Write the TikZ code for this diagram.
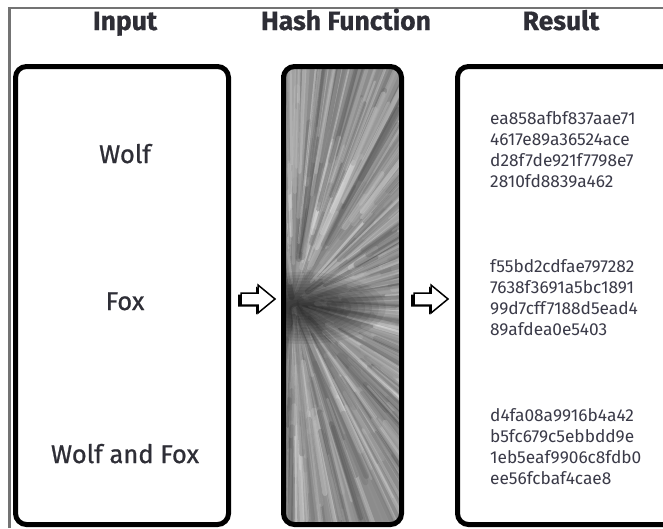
\documentclass[tikz,border=0pt]{standalone}
\usepackage{fontspec}
\setmainfont{Fira Sans}
\newfontfamily\medfont[FakeBold=0.9]{Fira Sans}
\newfontfamily\hdrfont[FakeBold=0.6]{Fira Sans Bold}
\usetikzlibrary{shapes.arrows}
\definecolor{txt}{HTML}{2E2E36}
\definecolor{hashc}{HTML}{3A3A48}
\begin{document}
\begin{tikzpicture}[x=1pt,y=-1pt,
  boxstyle/.style={draw=black, line width=5pt, rounded corners=11pt, inner sep=0pt},
  hdr/.style={font=\hdrfont\fontsize{26.5}{30}\selectfont, anchor=base, text=txt, inner sep=0pt},
  lbl/.style={font=\medfont\fontsize{25.5}{28}\selectfont, anchor=base, text=txt, inner sep=0pt},
  hashtxt/.style={font=\fontsize{17.3}{21}\selectfont, align=left, anchor=base west, inner sep=0pt, text=hashc},
  arrowshape/.style={draw=black, line width=1.5pt, fill=white, line join=miter},
  arrowshade/.style={fill=black}]
\useasboundingbox (0,0) rectangle (663,528);
\fill[white] (0,0) rectangle (663,528);
% frame
\draw[black!55, line width=2.5pt] (9.5,528) -- (9.5,8) -- (663,8);

% hash texture
\begin{scope}
\clip[rounded corners=11pt] (283.5,66.5) rectangle (401.5,524.5);
\fill[black!45] (280,60) rectangle (410,530);
\pgfmathsetseed{11}
\foreach \i in {1,...,650}{
  \pgfmathsetmacro\ang{-105+210*rnd}
  \pgfmathsetmacro\ra{5+150*rnd}
  \pgfmathsetmacro\rl{50+220*rnd}
  \pgfmathsetmacro\gr{25+75*rnd}
  \pgfmathsetmacro\lw{1.5+5*rnd}
  \draw[line width=\lw pt, line cap=round, white!\gr!black, opacity=0.3]
    (293,302) ++(\ang:\ra) -- ++(\ang:\rl);
}
\foreach \r in {6,12,...,72}{
  \fill[black, opacity=0.075] (303,308) ellipse ({\r*1.15} and {\r*0.5});
}
\end{scope}

% boxes
\node[boxstyle, minimum width=213pt, minimum height=458pt] (inbox) at (122,295.5) {};
\node[boxstyle, minimum width=118pt, minimum height=458pt] (hashbox) at (342.5,295.5) {};
\draw[black, line width=3pt] (282.5,75) -- (282.5,515);
\node[boxstyle, minimum width=240pt, minimum height=458pt] (resbox) at (577.5,295.5) {};

% headers
\node[hdr] (hin) at (125,30) {Input};
\node[hdr] (hhash) at (346,30) {Hash Function};
\node[hdr] (hres) at (561,30) {Result};

% input labels
\node[lbl] (wolf) at (125,163) {Wolf};
\node[lbl] (fox) at (125,310) {Fox};
\node[lbl] (wf) at (125,463) {Wolf and Fox};

% hashes (anchor = baseline of last line)
\node[hashtxt] (h1) at (490,187) {ea858afbf837aae71\\4617e89a36524ace\\d28f7de921f7798e7\\2810fd8839a462};
\node[hashtxt] (h2) at (490,335) {f55bd2cdfae797282\\7638f3691a5bc1891\\99d7cff7188d5ead4\\89afdea0e5403};
\node[hashtxt] (h3) at (490,484) {d4fa08a9916b4a42\\b5fc679c5ebbdd9e\\1eb5eaf9906c8fdb0\\ee56fcbaf4cae8};

% arrows
\fill[arrowshade] (238,294.5) -- (256,294.5) -- (256,286.5) -- (273,300.5) -- (256,314.5) -- (256,306.5) -- (238,306.5) -- cycle;
\draw[arrowshape] (241,293) -- (258,293) -- (258,285) -- (275,299) -- (258,313) -- (258,305) -- (241,305) -- cycle;
\fill[arrowshade] (411,294.5) -- (429,294.5) -- (429,286.5) -- (446,300.5) -- (429,314.5) -- (429,306.5) -- (411,306.5) -- cycle;
\draw[arrowshape] (414,293) -- (431,293) -- (431,285) -- (448,299) -- (431,313) -- (431,305) -- (414,305) -- cycle;
\end{tikzpicture}
\end{document}
